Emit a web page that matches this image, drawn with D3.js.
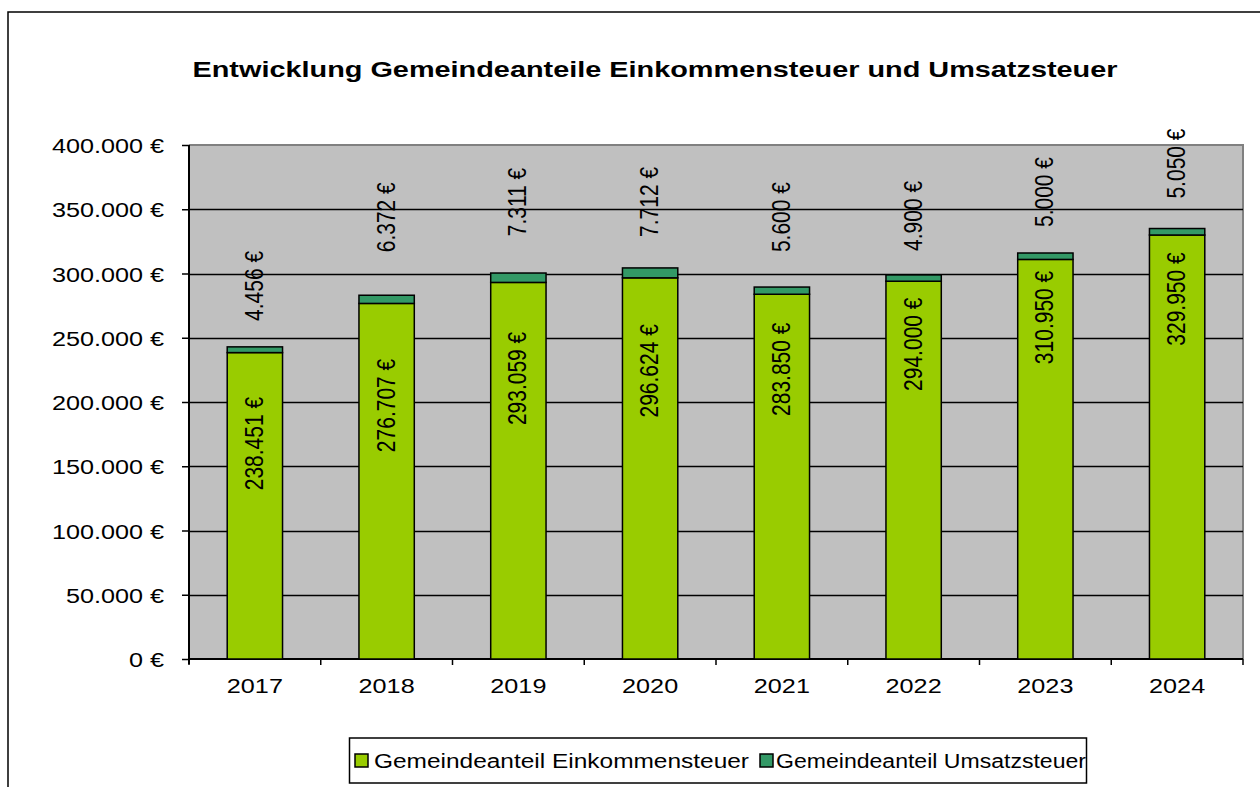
<!DOCTYPE html>
<html>
<head>
<meta charset="utf-8">
<script src="https://cdn.jsdelivr.net/npm/d3@7"></script>
<style>
  body { margin: 0; background: #fff; }
  svg { display: block; font-family: "Liberation Sans", Arial, sans-serif; }
</style>
</head>
<body>
<svg id="chart" width="1260" height="787"></svg>
<script>
// Gemeindeanteile Einkommensteuer / Umsatzsteuer, stacked columns

const years = ["2017", "2018", "2019", "2020", "2021", "2022", "2023", "2024"];
const einkommen = [238451, 276707, 293059, 296624, 283850, 294000, 310950, 329950];
const umsatz = [4456, 6372, 7311, 7712, 5600, 4900, 5000, 5050];
const yTicks = [0, 50000, 100000, 150000, 200000, 250000, 300000, 350000, 400000];
const seriesNames = ["Gemeindeanteil Einkommensteuer", "Gemeindeanteil Umsatzsteuer"];

// label placement in the original was dragged by hand, so keep the shifts (px)
const einShift = [91, 102, 96, 93, 75, 63, 58, 64];   // below top of green part
const umsShift = [61, 78, 71, 66, 70, 59, 61, 65];    // above top of stack

const GREEN = "#99CC00", TEAL = "#339966", PLOT = "#C0C0C0";
const SX = 1.2;  // original is stretched horizontally
const FS = 21;

const de = d3.formatLocale({ decimal: ",", thousands: ".", grouping: [3], currency: ["", " €"] });
const eur = de.format("$,.0f");

const svg = d3.select("#chart");
const m = { left: 189, top: 145, right: 1243, bottom: 659 };

const x = d3.scaleBand().domain(years).range([m.left, m.right]).paddingInner(0.58).paddingOuter(0.29);
const y = d3.scaleLinear().domain([0, 400000]).range([m.bottom, m.top]);

// outer frame (runs off the right/bottom edge)
svg.append("rect").attr("x", 8).attr("y", 12).attr("width", 1300).attr("height", 820)
  .attr("fill", "#fff").attr("stroke", "#000").attr("stroke-width", 1.5);

// title
svg.append("text").attr("x", 655).attr("y", 77).attr("text-anchor", "middle")
  .attr("font-size", 22).attr("font-weight", "bold")
  .attr("textLength", 925).attr("lengthAdjust", "spacingAndGlyphs")
  .text("Entwicklung Gemeindeanteile Einkommensteuer und Umsatzsteuer");

// plot area
svg.append("rect").attr("x", m.left).attr("y", m.top)
  .attr("width", m.right - m.left).attr("height", m.bottom - m.top)
  .attr("fill", PLOT);
svg.append("path")
  .attr("d", `M${m.left},${m.top}H${m.right}V${m.bottom}`)
  .attr("fill", "none").attr("stroke", "#808080").attr("stroke-width", 2);

// gridlines
svg.append("g").selectAll("line").data(yTicks.filter(d => d > 0 && d < 400000)).join("line")
  .attr("x1", m.left).attr("x2", m.right)
  .attr("y1", d => Math.round(y(d)) + 0.5).attr("y2", d => Math.round(y(d)) + 0.5)
  .attr("stroke", "#000").attr("stroke-width", 1.5);

// y axis
const yAxis = svg.append("g").attr("transform", `translate(${m.left},0)`)
  .call(d3.axisLeft(y).tickValues(yTicks).tickSize(7).tickPadding(0).tickFormat(eur));
yAxis.select(".domain").attr("stroke-width", 2).attr("d", `M0,${m.top}V${m.bottom + 5}`);
yAxis.selectAll(".tick line").attr("stroke-width", 1.5);
yAxis.selectAll(".tick text").remove();
yAxis.selectAll(".tick").append("text")
  .attr("transform", `translate(-25,0) scale(${SX},1)`)
  .attr("text-anchor", "end").attr("dy", "0.36em")
  .attr("font-size", FS).attr("fill", "#000")
  .text(d => eur(d));

// x axis
const bounds = years.map((d, i) => m.left + i * (m.right - m.left) / years.length).concat([m.right]);
svg.append("line").attr("x1", m.left).attr("x2", m.right).attr("y1", m.bottom).attr("y2", m.bottom)
  .attr("stroke", "#000").attr("stroke-width", 2);
svg.append("g").selectAll("line").data(bounds).join("line")
  .attr("x1", d => d).attr("x2", d => d).attr("y1", m.bottom).attr("y2", m.bottom + 6)
  .attr("stroke", "#000").attr("stroke-width", 1.5);
svg.append("g").selectAll("text").data(years).join("text")
  .attr("transform", d => `translate(${x(d) + x.bandwidth() / 2},693) scale(${SX},1)`)
  .attr("text-anchor", "middle").attr("font-size", FS).text(d => d);

// stacked bars
const rows = years.map((yr, i) => ({ year: yr, ein: einkommen[i], ums: umsatz[i] }));
const stack = d3.stack().keys(["ein", "ums"])(rows);
const colors = [GREEN, TEAL];
svg.append("g").selectAll("g").data(stack).join("g")
  .attr("fill", (d, i) => colors[i])
  .selectAll("rect").data(d => d).join("rect")
  .attr("x", d => x(d.data.year)).attr("width", x.bandwidth())
  .attr("y", d => y(d[1])).attr("height", d => y(d[0]) - y(d[1]))
  .attr("stroke", "#000").attr("stroke-width", 1.5);

// value labels (rotated)
const cx = d => x(d.year) + x.bandwidth() / 2;
svg.append("g").selectAll("text").data(rows).join("text")
  .attr("transform", (d, i) => `translate(${cx(d) - 1},${y(d.ein) + einShift[i]}) scale(${SX},1) rotate(-90)`)
  .attr("text-anchor", "middle").attr("dy", "0.36em").attr("font-size", FS)
  .text(d => eur(d.ein));
svg.append("g").selectAll("text").data(rows).join("text")
  .attr("transform", (d, i) => `translate(${cx(d) - 1},${y(d.ein + d.ums) - umsShift[i]}) scale(${SX},1) rotate(-90)`)
  .attr("text-anchor", "middle").attr("dy", "0.36em").attr("font-size", FS)
  .text(d => eur(d.ums));

// legend
const lg = svg.append("g");
lg.append("rect").attr("x", 349.5).attr("y", 738).attr("width", 737).attr("height", 45)
  .attr("fill", "#fff").attr("stroke", "#000").attr("stroke-width", 1.5);
const items = [{ x: 355, tx: 374, tl: 375 }, { x: 760, tx: 776, tl: 310 }];
items.forEach((it, i) => {
  lg.append("rect").attr("x", it.x).attr("y", 754).attr("width", 13).attr("height", 13)
    .attr("fill", colors[i]).attr("stroke", "#000").attr("stroke-width", 1.5);
  lg.append("text").attr("x", it.tx).attr("y", 768).attr("font-size", 20)
    .attr("textLength", it.tl).attr("lengthAdjust", "spacingAndGlyphs")
    .text(seriesNames[i]);
});
</script>
</body>
</html>
